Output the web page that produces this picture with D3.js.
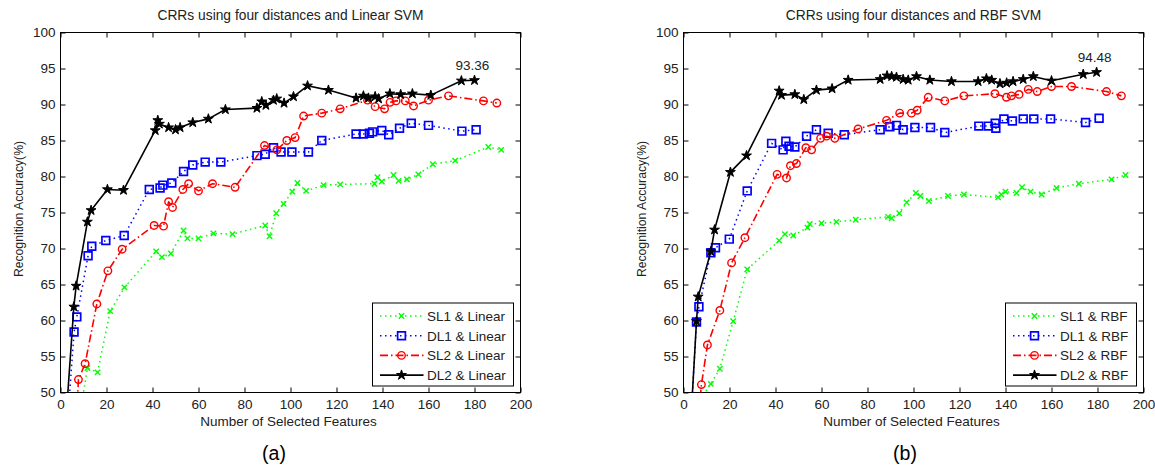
<!DOCTYPE html>
<html>
<head>
<meta charset="utf-8">
<script src="https://cdn.jsdelivr.net/npm/d3@7"></script>
<style>
  body { margin: 0; background: #fff; }
  svg { display: block; font-family: "Liberation Sans", Arial, Helvetica, sans-serif; }
</style>
</head>
<body>
<script>
// values, [number of features, accuracy %]
const xTicks = [0, 20, 40, 60, 80, 100, 120, 140, 160, 180, 200];
const yTicks = [50, 55, 60, 65, 70, 75, 80, 85, 90, 95, 100];

const linearSL1 = [[8, 46], [11.7, 53.4], [16.1, 52.8], [21.6, 61.3], [27.8, 64.6], [41.6, 69.6], [44.1, 68.8], [48, 69.3], [53.5, 72.5], [55.2, 71.4], [60, 71.4], [66.5, 72.1], [74.8, 72], [89, 73.2], [90.9, 71.7], [93.8, 74.9], [97, 76.2], [100.8, 77.9], [103, 79.1], [106.8, 78], [114.4, 78.8], [121.6, 78.9], [136.5, 79], [137.8, 79.9], [139.7, 79.3], [144.8, 80.2], [147, 79.4], [150.6, 79.6], [155.6, 80.3], [161.9, 81.7], [171.6, 82.2], [186, 84.1], [191.6, 83.7]];
const linearDL1 = [[2, 41.2], [5.9, 58.4], [7.1, 60.5], [12, 69], [13.6, 70.3], [19.7, 71.1], [27.7, 71.8], [38.6, 78.2], [43.3, 78.4], [44.5, 78.8], [48.4, 79.1], [53.5, 80.7], [57.5, 81.6], [62.9, 82], [69.7, 82], [85.4, 82.9], [89, 83.1], [92.6, 84], [95.9, 83.4], [100.6, 83.4], [107.8, 83.4], [113.6, 85], [128.5, 85.9], [131.7, 85.9], [134.3, 86], [135.7, 86.2], [139.7, 86.4], [142.7, 85.8], [147.4, 86.7], [152.5, 87.4], [160, 87.1], [174.5, 86.3], [180.7, 86.5]];
const linearSL2 = [[6, 40], [7.8, 51.8], [10.7, 54], [15.8, 62.3], [20.6, 66.9], [26.8, 69.9], [40.7, 73.2], [44.8, 73.1], [47, 76.5], [48.7, 75.7], [53.2, 78.2], [55.7, 79], [60, 78], [66.1, 79], [75.9, 78.5], [88.7, 84.3], [94.1, 83.7], [98.4, 85], [102, 85.4], [105.7, 88.4], [113.6, 88.8], [121.6, 89.4], [133.5, 90.6], [136.8, 89.7], [140.9, 89.4], [143.3, 90.3], [145.9, 90.5], [149.9, 90.5], [153.5, 89.8], [160, 90.6], [168.7, 91.2], [183.9, 90.5], [189.7, 90.2]];
const linearDL2 = [[2, 44.5], [5.8, 61.9], [6.8, 64.8], [11.7, 73.7], [13.3, 75.3], [20.4, 78.2], [27.4, 78.1], [41.2, 86.4], [42.3, 87.8], [43, 87.3], [47, 86.8], [50, 86.5], [52, 86.8], [57.5, 87.5], [64.3, 88], [71.7, 89.3], [85.4, 89.5], [87.5, 90.4], [89.3, 89.9], [92.6, 90.6], [94, 90.8], [97.2, 90.2], [101.3, 91.1], [107.4, 92.6], [116.5, 92], [128.5, 90.9], [131.7, 91.2], [133.9, 90.9], [136.8, 91.1], [138.3, 90.8], [143.2, 91.5], [147.9, 91.4], [153, 91.5], [161, 91.3], [174.3, 93.3], [180, 93.36]];

const rbfSL1 = [[6, 48.5], [11.9, 51.2], [15.8, 53.3], [21.6, 59.9], [27.7, 67.1], [41.6, 71.1], [44.1, 72], [47.7, 71.8], [53.9, 72.9], [54.9, 73.4], [60, 73.5], [66.5, 73.7], [74.9, 74], [88.9, 74.4], [90.5, 74.2], [93.8, 74.9], [97, 76.4], [101, 77.7], [103, 77.3], [106.7, 76.6], [115, 77.3], [121.9, 77.5], [136.8, 77.1], [138.2, 77.5], [140, 77.9], [144.8, 77.7], [147.2, 78.5], [150.9, 77.9], [155.7, 77.5], [162.2, 78.4], [171.9, 79], [186.1, 79.6], [192.2, 80.2]];
const rbfDL1 = [[2, 39.5], [5.65, 59.8], [6.7, 61.9], [11.9, 69.4], [13.9, 70.1], [19.9, 71.3], [27.7, 78], [38.3, 84.6], [43.3, 83.7], [44.5, 84.9], [45.9, 84.2], [48.4, 84.1], [53.5, 85.6], [57.8, 86.5], [62.9, 86], [69.9, 85.8], [85.5, 86.5], [89.7, 86.9], [92.6, 87.1], [95.5, 86.5], [100.6, 86.8], [107.4, 86.8], [113.6, 86.1], [128.4, 87], [132.6, 87], [135.5, 87.4], [135.8, 86.7], [139.3, 88], [143, 87.7], [147.7, 88], [152.3, 88], [159.6, 88], [174.8, 87.5], [180.7, 88.1]];
const rbfSL2 = [[6, 45], [7.8, 51.1], [10.4, 56.6], [15.8, 61.4], [20.9, 68], [26.7, 71.5], [40.7, 80.3], [44.8, 79.8], [46.5, 81.5], [49.1, 81.8], [53.2, 84], [55.7, 83.7], [59.6, 85.3], [62.2, 85.6], [65.8, 85.3], [75.9, 86.6], [88.3, 87.8], [94, 88.8], [99.1, 88.8], [101.6, 89.2], [106.4, 91], [113.6, 90.5], [121.9, 91.2], [135.4, 91.5], [140.4, 91], [142.6, 91.2], [145.9, 91.4], [149.9, 92.1], [153.8, 91.8], [160, 92.5], [168.7, 92.5], [183.9, 91.8], [190.4, 91.2]];
const rbfDL2 = [[2, 39.3], [5.65, 59.9], [6.4, 63.3], [11.9, 69.6], [13.5, 72.6], [20.4, 80.6], [27.4, 82.9], [41.6, 91.9], [42.6, 91.3], [48.4, 91.4], [52.3, 90.7], [57.8, 92], [64.6, 92.2], [71.6, 93.4], [85.5, 93.5], [88.5, 94], [90.5, 93.9], [92.6, 93.8], [95.5, 93.5], [97.7, 93.4], [101.3, 93.9], [107.1, 93.4], [116.5, 93.2], [128.1, 93.2], [131.7, 93.6], [134, 93.4], [137.6, 92.9], [140.5, 93], [143.3, 93.2], [147.7, 93.5], [152.1, 93.9], [160, 93.3], [173.8, 94.2], [179.6, 94.48]];

const linearLabels = ['SL1 & Linear', 'DL1 & Linear', 'SL2 & Linear', 'DL2 & Linear'];
const rbfLabels = ['SL1 & RBF', 'DL1 & RBF', 'SL2 & RBF', 'DL2 & RBF'];

// MATLAB style line specs  g:x  b:s  r-.o  k-p
const styles = [
  { color: '#00ff00', dash: '1.5,3.5', marker: 'x', width: 1.5 },
  { color: '#0000ff', dash: '1.5,3.5', marker: 'square', width: 1.5 },
  { color: '#ff0000', dash: '8,3,1.5,3', marker: 'circle', width: 1.6 },
  { color: '#000000', dash: null, marker: 'star', width: 1.6 },
];

const W = 1155;
const H = 469;
const plotW = 460;
const plotTop = 32.5;
const plotBottom = 392.5;
const fontSize = 13.5;

const svg = d3.select('body').append('svg')
  .attr('width', W)
  .attr('height', H);

const markerPath = (type) => {
  if (type === 'x') return 'M-2.7,-2.7L2.7,2.7M-2.7,2.7L2.7,-2.7';
  if (type === 'square') return d3.symbol(d3.symbolSquare, 60)();
  if (type === 'circle') return d3.symbol(d3.symbolCircle, 44)();
  return d3.symbol(d3.symbolStar, 30)();
};

const drawMarker = (sel, st) => {
  sel.attr('d', markerPath(st.marker));
  if (st.marker === 'star') {
    sel.attr('fill', st.color).attr('stroke', st.color).attr('stroke-width', 1);
  } else {
    sel.attr('fill', 'none').attr('stroke', st.color)
      .attr('stroke-width', st.marker === 'square' ? 1.7 : 1.4);
  }
};

const drawPanel = (p) => {
  const x = d3.scaleLinear().domain([0, 200]).range([p.left, p.left + plotW]);
  const y = d3.scaleLinear().domain([50, 100]).range([plotBottom, plotTop]);
  const right = p.left + plotW;
  const g = svg.append('g');

  g.append('clipPath').attr('id', p.id)
    .append('rect')
    .attr('x', p.left).attr('y', plotTop)
    .attr('width', plotW).attr('height', plotBottom - plotTop);

  // axes, ticks pointing inward on all four sides
  const styleAxis = (a) => {
    a.select('.domain').remove();
    a.attr('font-size', fontSize).attr('font-family', null);
    a.selectAll('text').attr('fill', '#222');
  };
  g.append('g')
    .attr('transform', `translate(0,${plotBottom})`)
    .call(d3.axisBottom(x).tickValues(xTicks).tickSize(-5).tickPadding(7).tickFormat(d3.format('d')))
    .call(styleAxis);
  g.append('g')
    .attr('transform', `translate(0,${plotTop})`)
    .call(d3.axisTop(x).tickValues(xTicks).tickSize(-5).tickFormat(''))
    .call(styleAxis);
  g.append('g')
    .attr('transform', `translate(${p.left},0)`)
    .call(d3.axisLeft(y).tickValues(yTicks).tickSize(-5).tickPadding(5).tickFormat(d3.format('d')))
    .call(styleAxis);
  g.append('g')
    .attr('transform', `translate(${right},0)`)
    .call(d3.axisRight(y).tickValues(yTicks).tickSize(-5).tickFormat(''))
    .call(styleAxis);

  g.append('rect')
    .attr('x', p.left).attr('y', plotTop)
    .attr('width', plotW).attr('height', plotBottom - plotTop)
    .attr('fill', 'none').attr('stroke', '#000').attr('stroke-width', 1);

  const line = d3.line().x((d) => x(d[0])).y((d) => y(d[1]));
  const plot = g.append('g').attr('clip-path', `url(#${p.id})`);

  p.series.forEach((data, i) => {
    const st = styles[i];
    plot.append('path')
      .datum(data)
      .attr('d', line)
      .attr('fill', 'none')
      .attr('stroke', st.color)
      .attr('stroke-width', st.width)
      .attr('stroke-dasharray', st.dash)
      .attr('stroke-linejoin', 'round');
    plot.selectAll(null)
      .data(data)
      .join('path')
      .attr('transform', (d) => `translate(${x(d[0])},${y(d[1])})`)
      .call(drawMarker, st);
  });

  // best value label
  const best = p.series[3][p.series[3].length - 1];
  g.append('text')
    .attr('x', x(best[0]) - 2)
    .attr('y', y(best[1]) - 10)
    .attr('text-anchor', 'middle')
    .attr('font-size', fontSize)
    .attr('fill', '#222')
    .text(best[1].toFixed(2));

  // titles and labels
  g.append('text')
    .attr('x', p.left + plotW / 2)
    .attr('y', 20)
    .attr('text-anchor', 'middle')
    .attr('font-size', 13.8)
    .attr('fill', '#222')
    .text(p.title);
  g.append('text')
    .attr('x', p.left + plotW / 2 - 2)
    .attr('y', 426)
    .attr('text-anchor', 'middle')
    .attr('font-size', fontSize)
    .attr('fill', '#222')
    .text('Number of Selected Features');
  g.append('text')
    .attr('transform', `translate(${p.left - 38},209) rotate(-90)`)
    .attr('text-anchor', 'middle')
    .attr('font-size', 12.2)
    .attr('fill', '#222')
    .text('Recognition Accuracy(%)');
  g.append('text')
    .attr('x', p.tagX)
    .attr('y', 459.5)
    .attr('text-anchor', 'middle')
    .attr('font-size', 19.5)
    .attr('fill', '#000')
    .text(p.tag);

  // legend
  const lg = g.append('g')
    .attr('transform', `translate(${right - 7 - p.legendW},303)`);
  lg.append('rect')
    .attr('width', p.legendW).attr('height', 83)
    .attr('fill', '#fff').attr('stroke', '#000').attr('stroke-width', 1);
  p.labels.forEach((label, i) => {
    const st = styles[i];
    const ry = 13 + i * 19.7;
    lg.append('line')
      .attr('x1', 7.5).attr('x2', 51)
      .attr('y1', ry).attr('y2', ry)
      .attr('stroke', st.color)
      .attr('stroke-width', st.width)
      .attr('stroke-dasharray', st.dash);
    lg.append('path')
      .attr('transform', `translate(29,${ry})`)
      .call(drawMarker, st);
    lg.append('text')
      .attr('x', 54.5)
      .attr('y', ry + 4.8)
      .attr('font-size', fontSize)
      .attr('fill', '#222')
      .text(label);
  });
};

drawPanel({
  id: 'clipA',
  left: 60.5,
  title: 'CRRs using four distances and Linear SVM',
  series: [linearSL1, linearDL1, linearSL2, linearDL2],
  labels: linearLabels,
  legendW: 141,
  tag: '(a)',
  tagX: 274,
});

drawPanel({
  id: 'clipB',
  left: 683.5,
  title: 'CRRs using four distances and RBF SVM',
  series: [rbfSL1, rbfDL1, rbfSL2, rbfDL2],
  labels: rbfLabels,
  legendW: 131,
  tag: '(b)',
  tagX: 905,
});
</script>
</body>
</html>
